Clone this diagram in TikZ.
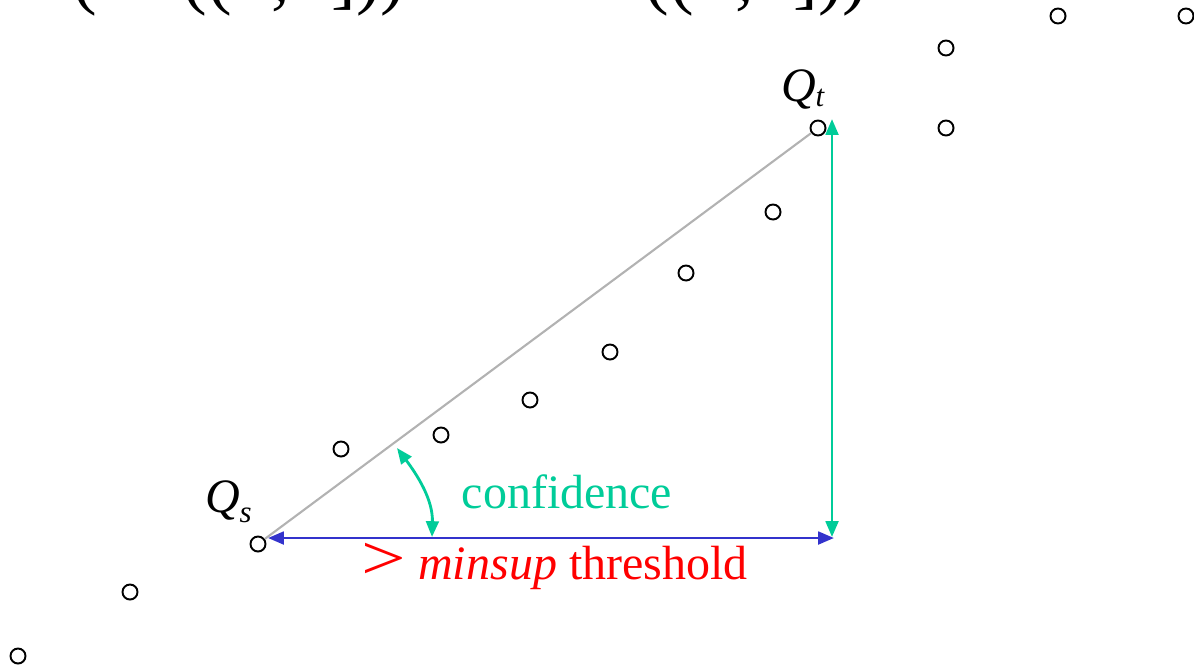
\documentclass[tikz,border=0pt]{standalone}
\usepackage{fontspec}
\setmainfont{Liberation Serif}
\usetikzlibrary{arrows.meta}
\definecolor{cgreen}{RGB}{0,204,153}
\definecolor{cblue}{RGB}{51,51,204}
\definecolor{cred}{RGB}{255,0,0}
\begin{document}
\begin{tikzpicture}[x=0.01cm,y=-0.01cm,
  dot/.style={circle,draw=black,line width=0.55pt,minimum size=0.15cm,inner sep=0pt},
  lbl/.style={anchor=base west,inner sep=0pt,font=\fontsize{13.65pt}{15pt}\selectfont},
  sub/.style={anchor=base west,inner sep=0pt,font=\fontsize{8.8pt}{10pt}\selectfont\itshape},
  toptxt/.style={anchor=base west,inner sep=0pt,font=\fontsize{21pt}{24pt}\selectfont},
  axis/.style={line width=0.8pt,{Triangle[length=4.5pt,width=3.6pt]}-{Triangle[length=4.5pt,width=3.6pt]}}]
\useasboundingbox (0,0) rectangle (1194,666);
\clip (0,0) rectangle (1194,666);
% clipped top text (only descenders visible)
\node[toptxt] (t1) at (72,0) {(};
\node[toptxt] (t2) at (182,0) {((};
\node[toptxt] (t3) at (271,0) {,};
\node[toptxt] (t4) at (331,0) {]))};
\node[toptxt] (t5) at (644,0) {((};
\node[toptxt] (t6) at (735,0) {,};
\node[toptxt] (t7) at (793,0) {]))};
% data points
\node[dot] (p1) at (1058,16) {};
\node[dot] (p2) at (1186,16) {};
\node[dot] (p3) at (946,48) {};
\node[dot] (p4) at (946,128) {};
\node[dot] (qt) at (818,128) {};
\node[dot] (p5) at (773,212) {};
\node[dot] (p6) at (686,273) {};
\node[dot] (p7) at (610,352) {};
\node[dot] (p8) at (530,400) {};
\node[dot] (p9) at (441,435) {};
\node[dot] (p10) at (341,449) {};
\node[dot] (qs) at (258,544) {};
\node[dot] (p11) at (130,592) {};
\node[dot] (p12) at (18,656) {};
% gray line
\draw[gray!60,line width=0.6pt] (qs) -- (qt);
% blue support arrow
\coordinate (bl) at (268,538);
\coordinate (br) at (834,538);
\draw[cblue,axis] (bl) -- (br);
% green vertical arrow
\coordinate (gt) at (832,119);
\coordinate (gb) at (832,537);
\draw[cgreen,axis] (gt) -- (gb);
% green curved arrow
\coordinate (ca) at (397,448);
\coordinate (cb) at (432,537);
\draw[cgreen,axis] (ca) .. controls (418,476) and (433,500) .. (cb);
% labels
\node[lbl,font=\fontsize{13.65pt}{15pt}\selectfont\itshape] (qsl) at (205,512) {Q};
\node[sub] (qss) at (239,522) {s};
\node[lbl,font=\fontsize{13.65pt}{15pt}\selectfont\itshape] (qtl) at (781,101) {Q};
\node[sub] (qts) at (815,106) {t};
\node[lbl,text=cgreen] (conf) at (461,508) {confidence};
\node[lbl,text=cred] (thr) at (361,579) {{\fontsize{18pt}{20pt}\selectfont\scalebox{1.25}[1]{>}}\hspace{0.25em}\textit{minsup} threshold};
\end{tikzpicture}
\end{document}
